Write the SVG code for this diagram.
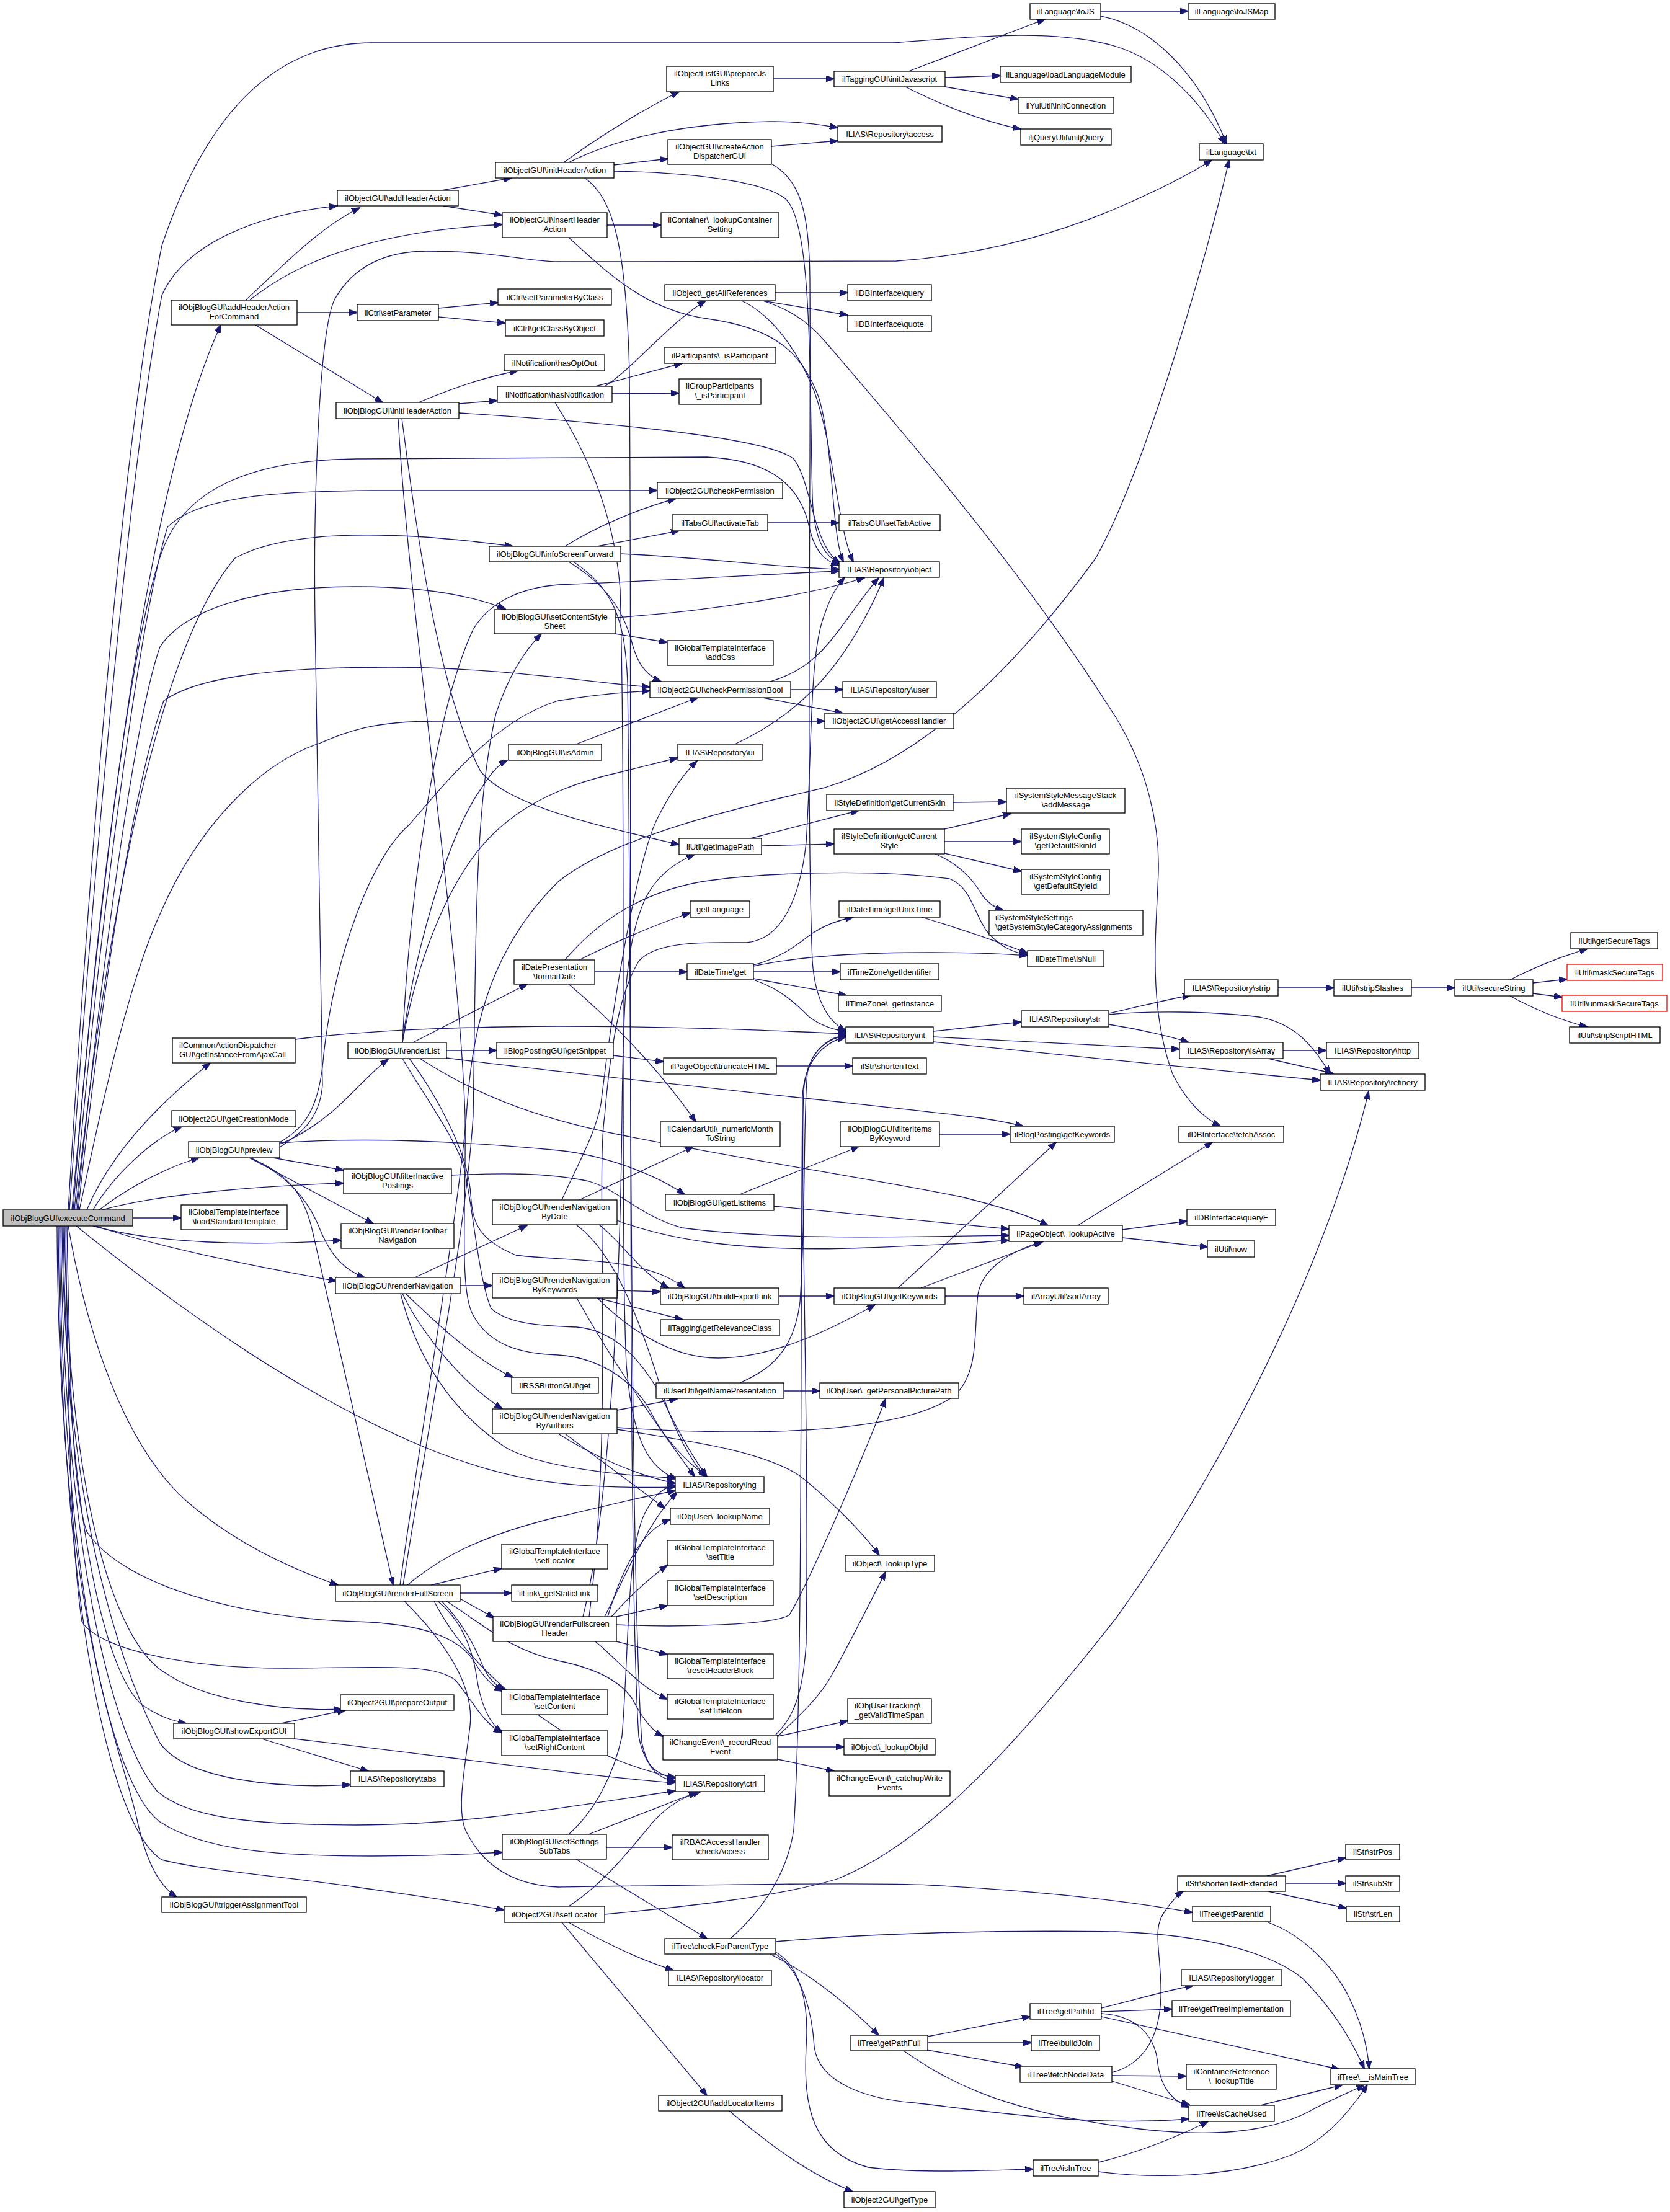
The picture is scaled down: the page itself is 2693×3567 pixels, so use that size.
<svg xmlns="http://www.w3.org/2000/svg" width="2693" height="3567" viewBox="0 0 2693 3567">
<defs>
<marker id="a" markerUnits="userSpaceOnUse" markerWidth="14" markerHeight="10" refX="13" refY="5" orient="auto"><path d="M0,0L14,5L0,10z" fill="#191970" stroke="#191970" stroke-width="1"/></marker>
<style>
.n rect{fill:#fff;stroke:#000;stroke-width:1.3}
.n text{font-family:"Liberation Sans",Arial,sans-serif;font-size:13px;fill:#000;text-anchor:middle}
.n text.l{text-anchor:start}
.n.root rect{fill:#bfbfbf}
.n.red rect{stroke:#ff0000}
.e path{fill:none;stroke:#191970;stroke-width:1.3;marker-end:url(#a)}
</style>
</defs>
<rect x="0" y="0" width="2693" height="3567" fill="#fff"/>
<g id="edges" class="e">
<path d="M110,1951 C150,1300 200,700 261,396 C320,220 420,69 600,69 L1440,69 C1560,60 1700,45 1800,75 C1880,100 1940,170 1975,232"/>
<path d="M112,1951 C155,1350 210,750 261,476 C300,390 420,345 544,332"/>
<path d="M116,1951 C165,1400 230,800 356,524"/>
<path d="M118,1951 C160,1400 220,1000 261,890 C300,780 420,742 574,740 L1140,737 C1240,742 1290,780 1305,850 C1315,895 1335,906 1353,912"/>
<path d="M120,1951 C165,1450 225,1000 270,850 C320,800 450,792 600,791 L1060,791"/>
<path d="M122,1951 C170,1500 250,1050 379,900 C450,860 600,850 827,881"/>
<path d="M124,1951 C170,1500 220,1150 258,1043 C300,980 420,946 574,946 C680,946 760,960 815,982"/>
<path d="M126,1951 C170,1550 220,1250 264,1130 C320,1090 450,1076 631,1076 C800,1076 950,1100 1048,1108"/>
<path d="M128,1951 C150,1850 200,1600 258,1474 C320,1330 420,1230 517,1198 C560,1180 600,1163 700,1163 L1330,1163"/>
<path d="M140,1951 C170,1880 230,1800 339,1714"/>
<path d="M150,1951 C180,1900 240,1840 293,1817"/>
<path d="M160,1951 C200,1920 260,1885 321,1867"/>
<path d="M165,1951 C260,1925 420,1912 554,1908"/>
<path d="M214,1964 L292,1964"/>
<path d="M150,1977 C250,2005 400,2010 550,2000"/>
<path d="M155,1977 C250,2010 400,2040 543,2066"/>
<path d="M123,1977 C300,2120 500,2260 700,2340 C820,2385 900,2402 1089,2398"/>
<path d="M110,1977 C140,2150 200,2330 300,2420 C380,2490 470,2530 545,2556"/>
<path d="M108,1977 C112,2200 115,2400 140,2470 C200,2560 400,2610 574,2615 C680,2618 740,2640 765,2680 C780,2705 795,2720 810,2727"/>
<path d="M106,1977 C110,2300 115,2500 132,2615 C160,2660 300,2690 459,2690 C600,2690 700,2680 735,2710 C760,2740 780,2780 809,2794"/>
<path d="M104,1977 C110,2400 180,2650 270,2700 C330,2740 450,2760 551,2756"/>
<path d="M102,1977 C108,2450 170,2700 230,2750 C260,2770 280,2775 300,2779"/>
<path d="M100,1977 C105,2450 200,2700 258,2811 C300,2870 450,2885 565,2878"/>
<path d="M98,1977 C103,2500 180,2800 253,2888 C300,2930 400,2943 574,2943 C750,2943 900,2916 1089,2888"/>
<path d="M96,1977 C100,2550 180,2880 258,2938 C330,2985 450,2993 600,2993 C700,2993 760,2990 810,2987"/>
<path d="M94,1977 C98,2600 180,2950 261,2999 C320,3015 450,3025 574,3043 C680,3058 760,3070 813,3080"/>
<path d="M92,1977 C95,2600 190,2800 220,2930 C235,3000 255,3040 285,3059"/>
<path d="M396,484 C450,435 510,370 580,335"/>
<path d="M402,484 C460,440 560,375 810,362"/>
<path d="M479,504 L576,504"/>
<path d="M412,524 L617,649"/>
<path d="M712,307 L825,287"/>
<path d="M715,332 L810,347"/>
<path d="M707,497 L803,488"/>
<path d="M707,511 L815,521"/>
<path d="M675,649 C720,630 780,608 835,598"/>
<path d="M740,651 L802,646"/>
<path d="M740,666 C900,676 1230,700 1280,740 C1310,780 1310,880 1355,908"/>
<path d="M648,675 C665,800 700,1100 775,1244 C820,1300 960,1330 1095,1362"/>
<path d="M642,675 C660,1000 740,1500 750,1800 C752,1950 740,2080 763,2121 C790,2170 840,2183 900,2185 C980,2190 1030,2240 1049,2276 C1070,2320 1110,2360 1140,2381"/>
<path d="M909,262 C960,225 1030,180 1095,148"/>
<path d="M917,262 C990,225 1100,198 1244,196 C1290,196 1320,200 1351,206"/>
<path d="M990,266 L1077,256"/>
<path d="M990,276 C1100,278 1230,290 1267,321 C1310,360 1305,600 1310,800 C1312,870 1330,900 1356,908"/>
<path d="M943,287 C990,320 1010,400 1015,600 C1020,1200 1010,2500 1030,2800 C1040,2850 1060,2862 1090,2868"/>
<path d="M979,363 L1066,363"/>
<path d="M917,383 C980,440 1040,500 1141,514 C1240,528 1290,560 1320,640 C1345,720 1340,860 1360,906"/>
<path d="M1244,236 L1351,227"/>
<path d="M1244,264 C1290,290 1305,340 1306,450 C1308,800 1300,1300 1310,1550 C1315,1620 1340,1650 1364,1662"/>
<path d="M1247,127 L1345,127"/>
<path d="M1465,115 L1685,31"/>
<path d="M1524,125 L1613,122"/>
<path d="M1524,140 L1642,160"/>
<path d="M1460,140 C1510,165 1580,195 1646,208"/>
<path d="M1775,18 L1916,18"/>
<path d="M1775,26 C1850,40 1930,110 1978,232"/>
<path d="M975,623 C1020,595 1080,520 1138,485"/>
<path d="M960,623 L1100,586"/>
<path d="M987,635 L1095,634"/>
<path d="M895,649 C940,720 990,820 1000,950 C1010,1300 1000,2000 1010,2200 C1020,2330 1050,2370 1092,2385"/>
<path d="M1250,472 L1367,472"/>
<path d="M1230,485 L1367,508"/>
<path d="M1230,485 C1270,498 1300,515 1330,550 C1450,690 1650,920 1800,1158 C1850,1240 1870,1330 1868,1405 C1865,1500 1850,1620 1891,1732 C1915,1780 1945,1805 1968,1816"/>
<path d="M1196,485 C1240,505 1285,560 1313,631 C1345,720 1350,850 1376,906"/>
<path d="M911,881 C960,850 1030,820 1090,804"/>
<path d="M963,881 L1095,856"/>
<path d="M1001,893 C1150,900 1250,915 1353,918"/>
<path d="M917,906 C990,950 1010,1000 1020,1040 C1030,1075 1045,1090 1066,1099"/>
<path d="M925,906 C990,950 1008,1000 1012,1100 C1018,1500 1015,2500 1035,2810 C1045,2855 1062,2868 1089,2872"/>
<path d="M1238,843 L1353,843"/>
<path d="M992,996 C1150,985 1300,960 1394,932"/>
<path d="M992,1022 L1076,1036"/>
<path d="M1242,1099 C1290,1085 1320,1060 1350,1020 C1380,980 1400,950 1417,932"/>
<path d="M1275,1112 L1359,1112"/>
<path d="M1230,1125 L1359,1150"/>
<path d="M929,1200 L1125,1125"/>
<path d="M1185,1200 C1250,1170 1300,1130 1340,1080 C1380,1030 1410,970 1425,932"/>
<path d="M1210,1352 L1385,1307"/>
<path d="M1228,1364 L1345,1361"/>
<path d="M1537,1294 L1623,1293"/>
<path d="M1523,1337 L1630,1312"/>
<path d="M1523,1357 L1647,1357"/>
<path d="M1523,1376 L1647,1405"/>
<path d="M1508,1377 C1550,1395 1570,1420 1585,1445 C1595,1458 1605,1464 1618,1468"/>
<path d="M934,1548 C1000,1515 1060,1490 1113,1472"/>
<path d="M959,1567 L1108,1567"/>
<path d="M911,1548 C960,1490 1030,1440 1130,1422 C1220,1408 1400,1400 1531,1417 C1565,1430 1570,1470 1590,1500 C1610,1525 1630,1535 1657,1540"/>
<path d="M917,1587 C980,1640 1060,1720 1122,1809"/>
<path d="M1215,1556 C1260,1545 1290,1520 1310,1505 C1330,1492 1350,1484 1376,1479"/>
<path d="M1215,1558 C1300,1540 1400,1536 1500,1536 C1570,1536 1620,1538 1657,1541"/>
<path d="M1215,1567 L1355,1567"/>
<path d="M1215,1578 L1365,1605"/>
<path d="M1215,1580 C1260,1595 1285,1620 1305,1640 C1325,1655 1345,1660 1364,1664"/>
<path d="M1486,1479 C1540,1495 1600,1515 1657,1537"/>
<path d="M476,1676 C600,1660 750,1656 900,1655 C1100,1655 1250,1662 1364,1667"/>
<path d="M989,1702 L1070,1712"/>
<path d="M1252,1719 L1375,1719"/>
<path d="M1505,1663 L1647,1648"/>
<path d="M1505,1672 C1650,1680 1800,1687 1902,1692"/>
<path d="M1505,1680 C1700,1700 1950,1725 2129,1742"/>
<path d="M1788,1634 C1830,1625 1880,1612 1920,1605"/>
<path d="M1788,1652 C1840,1660 1890,1672 1917,1681"/>
<path d="M1788,1636 C1850,1630 1950,1630 2030,1640 C2090,1650 2120,1690 2145,1732"/>
<path d="M2061,1593 L2151,1593"/>
<path d="M2276,1593 L2346,1593"/>
<path d="M2435,1580 C2470,1562 2515,1543 2560,1530"/>
<path d="M2472,1585 L2527,1579"/>
<path d="M2472,1602 L2519,1608"/>
<path d="M2435,1606 C2470,1625 2515,1645 2560,1656"/>
<path d="M2069,1694 L2139,1694"/>
<path d="M2045,1707 L2150,1731"/>
<path d="M1738,1976 L1955,1842"/>
<path d="M1810,1983 L1914,1969"/>
<path d="M1810,1996 L1948,2011"/>
<path d="M649,1681 C665,1550 720,1350 775,1273 C790,1250 800,1235 818,1226"/>
<path d="M666,1681 L850,1587"/>
<path d="M720,1694 L801,1694"/>
<path d="M649,1681 C660,1450 700,1150 763,1015 C790,970 840,948 900,943 C1100,935 1250,925 1353,921"/>
<path d="M649,1681 C670,1560 720,1420 792,1348 C840,1300 900,1270 980,1250 C1030,1238 1060,1230 1093,1222"/>
<path d="M720,1706 C900,1730 1300,1770 1560,1800 C1600,1805 1625,1810 1650,1816"/>
<path d="M677,1707 C760,1760 850,1800 1000,1830 C1200,1870 1400,1900 1550,1930 C1610,1945 1660,1960 1690,1976"/>
<path d="M649,1707 C680,1760 730,1830 746,1875 C760,1920 770,2060 792,2110 C820,2135 870,2138 930,2140 C990,2145 1030,2190 1060,2240 C1090,2300 1110,2340 1140,2381"/>
<path d="M660,1707 C700,1760 750,1850 758,1915 C762,1960 760,1995 832,2024 C870,2030 960,2030 1015,2041 C1060,2050 1085,2062 1104,2077"/>
<path d="M451,1850 C480,1830 515,1810 520,1750 L508,1000 C505,800 515,530 540,482 C570,430 620,405 689,405 C800,405 850,422 900,422 L1445,421 C1600,410 1720,370 1800,336 C1860,310 1920,280 1954,258"/>
<path d="M451,1845 C490,1830 530,1800 560,1770 C590,1740 610,1720 626,1708"/>
<path d="M440,1867 L554,1887"/>
<path d="M402,1867 L602,1973"/>
<path d="M405,1867 C460,1895 495,1930 515,1980 C535,2030 560,2050 588,2060"/>
<path d="M402,1867 C460,1890 490,1920 505,1990 C540,2150 600,2400 634,2556"/>
<path d="M451,1843 C550,1836 700,1836 900,1855 C970,1862 1050,1890 1104,1926"/>
<path d="M451,1842 C490,1820 515,1790 522,1700 C540,1540 600,1380 660,1330 C720,1260 800,1160 900,1130 C960,1120 1010,1116 1048,1114"/>
<path d="M728,1895 C800,1892 880,1890 950,1905 C1000,1920 1030,1960 1100,1980 C1250,2000 1450,1995 1627,1992"/>
<path d="M669,2060 L850,1976"/>
<path d="M742,2073 L794,2073"/>
<path d="M654,2086 C690,2120 760,2190 827,2221"/>
<path d="M649,2086 C670,2130 730,2220 810,2272"/>
<path d="M646,2086 C670,2180 720,2270 815,2334 C860,2360 950,2372 1010,2378 C1050,2381 1070,2382 1089,2384"/>
<path d="M934,1935 L1118,1849"/>
<path d="M906,1935 C930,1880 960,1830 969,1780 C990,1600 1030,1380 1060,1320 C1080,1280 1100,1250 1124,1227"/>
<path d="M966,1975 C1000,2000 1030,2050 1078,2077"/>
<path d="M995,1968 C1080,2000 1200,2020 1400,2012 C1500,2008 1580,2004 1627,2000"/>
<path d="M929,1975 C990,2020 1030,2120 1072,2259 C1090,2310 1110,2350 1137,2381"/>
<path d="M995,2081 L1065,2083"/>
<path d="M963,2093 L1101,2128"/>
<path d="M963,2093 C1010,2140 1080,2190 1158,2190 C1240,2190 1330,2150 1411,2104"/>
<path d="M930,2093 C990,2200 1060,2300 1120,2381"/>
<path d="M995,2274 L1092,2256"/>
<path d="M911,2312 L1072,2432"/>
<path d="M995,2305 C1120,2325 1230,2340 1290,2380 C1340,2420 1390,2470 1418,2508"/>
<path d="M995,2302 C1200,2315 1450,2315 1540,2250 C1580,2210 1570,2150 1577,2087 C1585,2040 1640,2015 1680,2002"/>
<path d="M900,2312 C960,2350 1030,2380 1089,2392"/>
<path d="M1264,2243 L1322,2243"/>
<path d="M1193,2230 C1240,2210 1280,2180 1290,2100 C1300,1950 1295,1800 1302,1730 C1310,1690 1340,1672 1364,1669"/>
<path d="M695,2556 L809,2529"/>
<path d="M742,2569 L825,2569"/>
<path d="M742,2578 L797,2609"/>
<path d="M657,2556 C700,2520 760,2480 900,2446 C980,2428 1040,2412 1089,2404"/>
<path d="M645,2556 C680,2300 740,1950 752,1800 C760,1680 780,1540 900,1422 C1000,1340 1250,1290 1330,1270 C1500,1220 1650,1060 1767,900 C1850,750 1950,400 1982,258"/>
<path d="M650,2556 C690,2300 750,2000 763,1800 C768,1500 765,1300 800,1150 C820,1090 845,1050 873,1022"/>
<path d="M712,2582 C740,2610 765,2650 780,2690 C790,2710 800,2718 814,2724"/>
<path d="M706,2582 C740,2610 760,2650 768,2700 C775,2750 790,2780 810,2793"/>
<path d="M652,2582 C720,2650 765,2720 758,2783 C750,2850 735,2920 752,2954 C780,3010 830,3040 900,3043 C1100,3040 1400,3035 1500,3040 C1650,3048 1800,3062 1923,3084"/>
<path d="M720,2582 C780,2620 820,2660 900,2678 C960,2690 1000,2710 1020,2740 C1035,2770 1050,2790 1069,2800"/>
<path d="M700,2582 C760,2700 900,2800 1000,2840 C1040,2855 1065,2862 1089,2866"/>
<path d="M975,2607 C1000,2560 1040,2460 1092,2406"/>
<path d="M980,2607 C1000,2540 1030,2470 1081,2450"/>
<path d="M986,2607 C1010,2580 1040,2550 1076,2524"/>
<path d="M994,2607 L1076,2589"/>
<path d="M994,2647 L1076,2668"/>
<path d="M960,2647 C1000,2680 1030,2720 1076,2740"/>
<path d="M994,2620 C1100,2625 1250,2620 1273,2604 C1300,2560 1380,2380 1428,2256"/>
<path d="M940,2607 C980,2450 1000,2100 1003,1800 C1005,1600 1010,1520 1040,1450 C1060,1410 1090,1390 1120,1378"/>
<path d="M950,2607 C990,2300 960,1900 975,1800 C985,1680 1000,1600 1030,1550 C1060,1515 1150,1520 1204,1520 C1260,1515 1290,1450 1300,1359 C1310,1200 1305,1050 1330,990 C1340,960 1350,945 1362,931"/>
<path d="M1254,2800 L1367,2775"/>
<path d="M1254,2817 L1361,2817"/>
<path d="M1254,2837 L1345,2856"/>
<path d="M1254,2800 C1285,2770 1320,2740 1342,2700 C1370,2650 1400,2590 1428,2535"/>
<path d="M1250,2798 C1280,2770 1295,2730 1300,2650 C1305,2300 1290,1900 1296,1760 C1300,1700 1330,1675 1364,1670"/>
<path d="M949,2958 L1124,2890"/>
<path d="M978,2979 L1084,2979"/>
<path d="M929,2998 L1140,3126"/>
<path d="M917,2958 C960,2920 990,2860 1003,2800 C1015,2650 1010,2500 1040,2440 C1055,2410 1070,2398 1090,2395"/>
<path d="M917,3074 C970,3040 1010,2990 1044,2949 C1070,2915 1100,2898 1130,2889"/>
<path d="M975,3087 C1100,3075 1250,3060 1350,3030 C1500,2970 1650,2800 1800,2609 C2000,2330 2150,2000 2207,1760"/>
<path d="M917,3100 C970,3130 1030,3160 1086,3177"/>
<path d="M906,3100 L1140,3379"/>
<path d="M453,2779 L557,2758"/>
<path d="M422,2804 L594,2856"/>
<path d="M475,2804 C700,2830 950,2865 1089,2875"/>
<path d="M1178,3126 C1230,3080 1270,3020 1280,2950 C1295,2700 1290,2200 1294,1770 C1296,1710 1330,1680 1364,1672"/>
<path d="M1251,3131 C1400,3118 1600,3112 1800,3115 C1950,3120 2050,3150 2100,3190 C2150,3240 2180,3290 2200,3336"/>
<path d="M1242,3151 C1300,3180 1360,3225 1417,3282"/>
<path d="M1251,3148 C1290,3170 1305,3230 1300,3300 C1295,3400 1310,3470 1400,3495 C1480,3505 1580,3500 1666,3498"/>
<path d="M1251,3151 C1295,3180 1310,3250 1313,3300 C1320,3360 1400,3385 1474,3391 C1600,3405 1750,3430 1917,3417"/>
<path d="M1496,3284 L1661,3252"/>
<path d="M1496,3294 L1663,3294"/>
<path d="M1496,3306 L1650,3333"/>
<path d="M1457,3307 C1520,3350 1600,3400 1800,3428 C1950,3450 2050,3440 2120,3400 C2160,3380 2185,3370 2200,3362"/>
<path d="M1776,3238 C1830,3225 1880,3210 1924,3202"/>
<path d="M1776,3244 L1890,3240"/>
<path d="M1776,3247 C1830,3250 1860,3280 1866,3320 C1870,3360 1885,3385 1917,3398"/>
<path d="M1776,3252 L2160,3337"/>
<path d="M1793,3342 C1840,3330 1870,3290 1872,3220 C1874,3150 1855,3110 1880,3080 C1890,3065 1900,3055 1908,3050"/>
<path d="M1793,3347 L1913,3348"/>
<path d="M1793,3356 L1918,3394"/>
<path d="M1771,3487 C1840,3470 1900,3445 1948,3421"/>
<path d="M1771,3502 C1850,3512 1980,3515 2085,3474 C2140,3450 2180,3400 2205,3362"/>
<path d="M2033,3395 L2165,3362"/>
<path d="M2045,3100 C2100,3120 2150,3170 2175,3220 C2195,3260 2205,3300 2208,3336"/>
<path d="M2043,3025 L2170,2996"/>
<path d="M2073,3037 L2170,3037"/>
<path d="M2045,3050 L2171,3077"/>
<path d="M1176,3404 C1220,3440 1290,3500 1375,3534"/>
<path d="M1248,1945 L1627,1982"/>
<path d="M1193,1926 L1385,1849"/>
<path d="M1515,1829 L1629,1829"/>
<path d="M1448,2077 L1703,1842"/>
<path d="M1485,2077 L1682,2002"/>
<path d="M1524,2090 L1651,2090"/>
<path d="M1256,2090 L1345,2090"/>
</g>
<g id="n_exec" class="n root"><rect x="5" y="1951" width="209" height="26"/><text x="109.5" y="1968.5">ilObjBlogGUI\executeCommand</text></g>
<g id="n_ahafc" class="n"><rect x="276" y="484" width="203" height="40"/><text x="377.5" y="500">ilObjBlogGUI\addHeaderAction</text><text x="377.5" y="515">ForCommand</text></g>
<g id="n_ajax" class="n"><rect x="278" y="1674" width="198" height="40"/><text class="l" x="289" y="1690">ilCommonActionDispatcher</text><text class="l" x="289" y="1705">GUI\getInstanceFromAjaxCall</text></g>
<g id="n_crmode" class="n"><rect x="277" y="1791" width="200" height="26"/><text x="377" y="1808.5">ilObject2GUI\getCreationMode</text></g>
<g id="n_preview" class="n"><rect x="304" y="1841" width="147" height="26"/><text x="377.5" y="1858.5">ilObjBlogGUI\preview</text></g>
<g id="n_loadtpl" class="n"><rect x="292" y="1943" width="171" height="40"/><text x="377.5" y="1959">ilGlobalTemplateInterface</text><text x="377.5" y="1974">\loadStandardTemplate</text></g>
<g id="n_export" class="n"><rect x="280" y="2779" width="195" height="25"/><text x="377.5" y="2796">ilObjBlogGUI\showExportGUI</text></g>
<g id="n_trigger" class="n"><rect x="261" y="3059" width="233" height="25"/><text x="377.5" y="3076">ilObjBlogGUI\triggerAssignmentTool</text></g>
<g id="n_ogaha" class="n"><rect x="544" y="307" width="195" height="25"/><text x="641.5" y="324">ilObjectGUI\addHeaderAction</text></g>
<g id="n_setparam" class="n"><rect x="576" y="491" width="131" height="26"/><text x="641.5" y="508.5">ilCtrl\setParameter</text></g>
<g id="n_binit" class="n"><rect x="542" y="649" width="198" height="26"/><text x="641" y="666.5">ilObjBlogGUI\initHeaderAction</text></g>
<g id="n_rlist" class="n"><rect x="561" y="1681" width="159" height="26"/><text x="640.5" y="1698.5">ilObjBlogGUI\renderList</text></g>
<g id="n_filter" class="n"><rect x="554" y="1885" width="174" height="40"/><text x="641" y="1901">ilObjBlogGUI\filterInactive</text><text x="641" y="1916">Postings</text></g>
<g id="n_toolbar" class="n"><rect x="550" y="1973" width="182" height="40"/><text x="641" y="1989">ilObjBlogGUI\renderToolbar</text><text x="641" y="2004">Navigation</text></g>
<g id="n_rnav" class="n"><rect x="541" y="2060" width="201" height="26"/><text x="641.5" y="2077.5">ilObjBlogGUI\renderNavigation</text></g>
<g id="n_rfull" class="n"><rect x="541" y="2556" width="201" height="26"/><text x="641.5" y="2573.5">ilObjBlogGUI\renderFullScreen</text></g>
<g id="n_prepout" class="n"><rect x="549" y="2733" width="183" height="25"/><text x="640.5" y="2750">ilObject2GUI\prepareOutput</text></g>
<g id="n_tabs" class="n"><rect x="565" y="2856" width="151" height="25"/><text x="640.5" y="2873">ILIAS\Repository\tabs</text></g>
<g id="n_oginit" class="n"><rect x="799" y="262" width="191" height="25"/><text x="894.5" y="279">ilObjectGUI\initHeaderAction</text></g>
<g id="n_insert" class="n"><rect x="810" y="343" width="169" height="40"/><text x="894.5" y="359">ilObjectGUI\insertHeader</text><text x="894.5" y="374">Action</text></g>
<g id="n_spbc" class="n"><rect x="803" y="466" width="183" height="26"/><text x="894.5" y="483.5">ilCtrl\setParameterByClass</text></g>
<g id="n_gcbo" class="n"><rect x="815" y="516" width="159" height="26"/><text x="894.5" y="533.5">ilCtrl\getClassByObject</text></g>
<g id="n_optout" class="n"><rect x="813" y="572" width="162" height="26"/><text x="894" y="589.5">ilNotification\hasOptOut</text></g>
<g id="n_hasnot" class="n"><rect x="802" y="623" width="185" height="26"/><text x="894.5" y="640.5">ilNotification\hasNotification</text></g>
<g id="n_info" class="n"><rect x="789" y="881" width="212" height="25"/><text x="895" y="898">ilObjBlogGUI\infoScreenForward</text></g>
<g id="n_css" class="n"><rect x="797" y="983" width="195" height="39"/><text x="894.5" y="999">ilObjBlogGUI\setContentStyle</text><text x="894.5" y="1014">Sheet</text></g>
<g id="n_admin" class="n"><rect x="820" y="1200" width="150" height="26"/><text x="895" y="1217.5">ilObjBlogGUI\isAdmin</text></g>
<g id="n_fmt" class="n"><rect x="829" y="1548" width="130" height="39"/><text x="894" y="1564">ilDatePresentation</text><text x="894" y="1579">\formatDate</text></g>
<g id="n_snip" class="n"><rect x="801" y="1681" width="188" height="26"/><text x="895" y="1698.5">ilBlogPostingGUI\getSnippet</text></g>
<g id="n_bydate" class="n"><rect x="794" y="1935" width="201" height="40"/><text x="894.5" y="1951">ilObjBlogGUI\renderNavigation</text><text x="894.5" y="1966">ByDate</text></g>
<g id="n_bykw" class="n"><rect x="794" y="2053" width="201" height="40"/><text x="894.5" y="2069">ilObjBlogGUI\renderNavigation</text><text x="894.5" y="2084">ByKeywords</text></g>
<g id="n_rss" class="n"><rect x="825" y="2221" width="140" height="26"/><text x="895" y="2238.5">ilRSSButtonGUI\get</text></g>
<g id="n_byauth" class="n"><rect x="794" y="2272" width="201" height="40"/><text x="894.5" y="2288">ilObjBlogGUI\renderNavigation</text><text x="894.5" y="2303">ByAuthors</text></g>
<g id="n_setloc" class="n"><rect x="809" y="2490" width="171" height="40"/><text x="894.5" y="2506">ilGlobalTemplateInterface</text><text x="894.5" y="2521">\setLocator</text></g>
<g id="n_static" class="n"><rect x="825" y="2556" width="139" height="26"/><text x="894.5" y="2573.5">ilLink\_getStaticLink</text></g>
<g id="n_fshead" class="n"><rect x="795" y="2607" width="199" height="40"/><text x="894.5" y="2623">ilObjBlogGUI\renderFullscreen</text><text x="894.5" y="2638">Header</text></g>
<g id="n_setcont" class="n"><rect x="809" y="2725" width="171" height="40"/><text x="894.5" y="2741">ilGlobalTemplateInterface</text><text x="894.5" y="2756">\setContent</text></g>
<g id="n_setright" class="n"><rect x="809" y="2791" width="171" height="40"/><text x="894.5" y="2807">ilGlobalTemplateInterface</text><text x="894.5" y="2822">\setRightContent</text></g>
<g id="n_subtabs" class="n"><rect x="810" y="2958" width="168" height="40"/><text x="894" y="2974">ilObjBlogGUI\setSettings</text><text x="894" y="2989">SubTabs</text></g>
<g id="n_o2loc" class="n"><rect x="813" y="3074" width="162" height="26"/><text x="894" y="3091.5">ilObject2GUI\setLocator</text></g>
<g id="n_jslinks" class="n"><rect x="1075" y="107" width="172" height="41"/><text x="1161" y="123">ilObjectListGUI\prepareJs</text><text x="1161" y="138">Links</text></g>
<g id="n_cadg" class="n"><rect x="1077" y="225" width="167" height="40"/><text x="1160.5" y="241">ilObjectGUI\createAction</text><text x="1160.5" y="256">DispatcherGUI</text></g>
<g id="n_contset" class="n"><rect x="1066" y="343" width="190" height="40"/><text x="1161" y="359">ilContainer\_lookupContainer</text><text x="1161" y="374">Setting</text></g>
<g id="n_allref" class="n"><rect x="1072" y="459" width="178" height="26"/><text x="1161" y="476.5">ilObject\_getAllReferences</text></g>
<g id="n_part" class="n"><rect x="1071" y="560" width="180" height="26"/><text x="1161" y="577.5">ilParticipants\_isParticipant</text></g>
<g id="n_grppart" class="n"><rect x="1095" y="611" width="132" height="41"/><text x="1161" y="627">ilGroupParticipants</text><text x="1161" y="642">\_isParticipant</text></g>
<g id="n_chkperm" class="n"><rect x="1060" y="778" width="202" height="26"/><text x="1161" y="795.5">ilObject2GUI\checkPermission</text></g>
<g id="n_acttab" class="n"><rect x="1084" y="830" width="154" height="26"/><text x="1161" y="847.5">ilTabsGUI\activateTab</text></g>
<g id="n_addcss" class="n"><rect x="1076" y="1033" width="171" height="40"/><text x="1161.5" y="1049">ilGlobalTemplateInterface</text><text x="1161.5" y="1064">\addCss</text></g>
<g id="n_cpb" class="n"><rect x="1048" y="1099" width="227" height="26"/><text x="1161.5" y="1116.5">ilObject2GUI\checkPermissionBool</text></g>
<g id="n_ui" class="n"><rect x="1093" y="1200" width="136" height="26"/><text x="1161" y="1217.5">ILIAS\Repository\ui</text></g>
<g id="n_imgpath" class="n"><rect x="1095" y="1352" width="133" height="26"/><text x="1161.5" y="1369.5">ilUtil\getImagePath</text></g>
<g id="n_getlang" class="n"><rect x="1113" y="1453" width="96" height="26"/><text x="1161" y="1470.5">getLanguage</text></g>
<g id="n_dtget" class="n"><rect x="1108" y="1554" width="107" height="26"/><text x="1161.5" y="1571.5">ilDateTime\get</text></g>
<g id="n_trunc" class="n"><rect x="1070" y="1706" width="182" height="26"/><text x="1161" y="1723.5">ilPageObject\truncateHTML</text></g>
<g id="n_month" class="n"><rect x="1065" y="1809" width="193" height="40"/><text x="1161.5" y="1825">ilCalendarUtil\_numericMonth</text><text x="1161.5" y="1840">ToString</text></g>
<g id="n_listitems" class="n"><rect x="1073" y="1926" width="175" height="26"/><text x="1160.5" y="1943.5">ilObjBlogGUI\getListItems</text></g>
<g id="n_explink" class="n"><rect x="1065" y="2077" width="191" height="26"/><text x="1160.5" y="2094.5">ilObjBlogGUI\buildExportLink</text></g>
<g id="n_relclass" class="n"><rect x="1065" y="2128" width="192" height="26"/><text x="1161" y="2145.5">ilTagging\getRelevanceClass</text></g>
<g id="n_namepres" class="n"><rect x="1058" y="2230" width="206" height="25"/><text x="1161" y="2247">ilUserUtil\getNamePresentation</text></g>
<g id="n_lng" class="n"><rect x="1089" y="2381" width="143" height="26"/><text x="1160.5" y="2398.5">ILIAS\Repository\lng</text></g>
<g id="n_lookname" class="n"><rect x="1081" y="2432" width="160" height="26"/><text x="1161" y="2449.5">ilObjUser\_lookupName</text></g>
<g id="n_settitle" class="n"><rect x="1076" y="2484" width="171" height="40"/><text x="1161.5" y="2500">ilGlobalTemplateInterface</text><text x="1161.5" y="2515">\setTitle</text></g>
<g id="n_setdesc" class="n"><rect x="1076" y="2549" width="171" height="40"/><text x="1161.5" y="2565">ilGlobalTemplateInterface</text><text x="1161.5" y="2580">\setDescription</text></g>
<g id="n_resethb" class="n"><rect x="1076" y="2667" width="171" height="40"/><text x="1161.5" y="2683">ilGlobalTemplateInterface</text><text x="1161.5" y="2698">\resetHeaderBlock</text></g>
<g id="n_titleicon" class="n"><rect x="1076" y="2732" width="171" height="40"/><text x="1161.5" y="2748">ilGlobalTemplateInterface</text><text x="1161.5" y="2763">\setTitleIcon</text></g>
<g id="n_readev" class="n"><rect x="1069" y="2798" width="185" height="40"/><text x="1161.5" y="2814">ilChangeEvent\_recordRead</text><text x="1161.5" y="2829">Event</text></g>
<g id="n_ctrl" class="n"><rect x="1089" y="2863" width="144" height="26"/><text x="1161" y="2880.5">ILIAS\Repository\ctrl</text></g>
<g id="n_chkacc" class="n"><rect x="1084" y="2959" width="155" height="40"/><text x="1161.5" y="2975">ilRBACAccessHandler</text><text x="1161.5" y="2990">\checkAccess</text></g>
<g id="n_parenttype" class="n"><rect x="1072" y="3126" width="179" height="25"/><text x="1161.5" y="3143">ilTree\checkForParentType</text></g>
<g id="n_locator" class="n"><rect x="1078" y="3177" width="166" height="25"/><text x="1161" y="3194">ILIAS\Repository\locator</text></g>
<g id="n_addloc" class="n"><rect x="1062" y="3379" width="199" height="25"/><text x="1161.5" y="3396">ilObject2GUI\addLocatorItems</text></g>
<g id="n_initjs" class="n"><rect x="1345" y="115" width="179" height="25"/><text x="1434.5" y="132">ilTaggingGUI\initJavascript</text></g>
<g id="n_access" class="n"><rect x="1351" y="203" width="168" height="26"/><text x="1435" y="220.5">ILIAS\Repository\access</text></g>
<g id="n_query" class="n"><rect x="1367" y="459" width="135" height="26"/><text x="1434.5" y="476.5">ilDBInterface\query</text></g>
<g id="n_quote" class="n"><rect x="1367" y="509" width="135" height="26"/><text x="1434.5" y="526.5">ilDBInterface\quote</text></g>
<g id="n_settab" class="n"><rect x="1353" y="830" width="163" height="26"/><text x="1434.5" y="847.5">ilTabsGUI\setTabActive</text></g>
<g id="n_object" class="n"><rect x="1353" y="906" width="162" height="25"/><text x="1434" y="923">ILIAS\Repository\object</text></g>
<g id="n_user" class="n"><rect x="1359" y="1099" width="151" height="26"/><text x="1434.5" y="1116.5">ILIAS\Repository\user</text></g>
<g id="n_accessh" class="n"><rect x="1330" y="1150" width="208" height="25"/><text x="1434" y="1167">ilObject2GUI\getAccessHandler</text></g>
<g id="n_skin" class="n"><rect x="1333" y="1281" width="204" height="26"/><text x="1435" y="1298.5">ilStyleDefinition\getCurrentSkin</text></g>
<g id="n_style" class="n"><rect x="1345" y="1337" width="178" height="40"/><text x="1434" y="1353">ilStyleDefinition\getCurrent</text><text x="1434" y="1368">Style</text></g>
<g id="n_unixtime" class="n"><rect x="1353" y="1453" width="163" height="26"/><text x="1434.5" y="1470.5">ilDateTime\getUnixTime</text></g>
<g id="n_tzid" class="n"><rect x="1355" y="1554" width="159" height="26"/><text x="1434.5" y="1571.5">ilTimeZone\getIdentifier</text></g>
<g id="n_tzinst" class="n"><rect x="1352" y="1605" width="166" height="26"/><text x="1435" y="1622.5">ilTimeZone\_getInstance</text></g>
<g id="n_int" class="n"><rect x="1364" y="1656" width="141" height="26"/><text x="1434.5" y="1673.5">ILIAS\Repository\int</text></g>
<g id="n_shorten" class="n"><rect x="1375" y="1706" width="119" height="26"/><text x="1434.5" y="1723.5">ilStr\shortenText</text></g>
<g id="n_filterkw" class="n"><rect x="1355" y="1809" width="160" height="40"/><text x="1435" y="1825">ilObjBlogGUI\filterItems</text><text x="1435" y="1840">ByKeyword</text></g>
<g id="n_bkw" class="n"><rect x="1345" y="2077" width="179" height="26"/><text x="1434.5" y="2094.5">ilObjBlogGUI\getKeywords</text></g>
<g id="n_pic" class="n"><rect x="1322" y="2230" width="224" height="25"/><text x="1434" y="2247">ilObjUser\_getPersonalPicturePath</text></g>
<g id="n_looktype" class="n"><rect x="1363" y="2508" width="144" height="26"/><text x="1435" y="2525.5">ilObject\_lookupType</text></g>
<g id="n_validts" class="n"><rect x="1367" y="2739" width="135" height="40"/><text class="l" x="1378" y="2755">ilObjUserTracking\</text><text class="l" x="1378" y="2770">_getValidTimeSpan</text></g>
<g id="n_lookobjid" class="n"><rect x="1361" y="2804" width="147" height="26"/><text x="1434.5" y="2821.5">ilObject\_lookupObjId</text></g>
<g id="n_catchup" class="n"><rect x="1337" y="2856" width="195" height="40"/><text x="1434.5" y="2872">ilChangeEvent\_catchupWrite</text><text x="1434.5" y="2887">Events</text></g>
<g id="n_pathfull" class="n"><rect x="1372" y="3282" width="124" height="25"/><text x="1434" y="3299">ilTree\getPathFull</text></g>
<g id="n_gettype" class="n"><rect x="1361" y="3534" width="147" height="26"/><text x="1434.5" y="3551.5">ilObject2GUI\getType</text></g>
<g id="n_tojs" class="n"><rect x="1661" y="6" width="114" height="25"/><text x="1718" y="23">ilLanguage\toJS</text></g>
<g id="n_loadmod" class="n"><rect x="1613" y="107" width="211" height="26"/><text x="1718.5" y="124.5">ilLanguage\loadLanguageModule</text></g>
<g id="n_yui" class="n"><rect x="1642" y="157" width="154" height="26"/><text x="1719" y="174.5">ilYuiUtil\initConnection</text></g>
<g id="n_jq" class="n"><rect x="1646" y="208" width="146" height="26"/><text x="1719" y="225.5">iljQueryUtil\initjQuery</text></g>
<g id="n_addmsg" class="n"><rect x="1623" y="1271" width="191" height="40"/><text x="1718.5" y="1287">ilSystemStyleMessageStack</text><text x="1718.5" y="1302">\addMessage</text></g>
<g id="n_defskin" class="n"><rect x="1647" y="1337" width="142" height="40"/><text x="1718" y="1353">ilSystemStyleConfig</text><text x="1718" y="1368">\getDefaultSkinId</text></g>
<g id="n_defstyle" class="n"><rect x="1647" y="1402" width="142" height="40"/><text x="1718" y="1418">ilSystemStyleConfig</text><text x="1718" y="1433">\getDefaultStyleId</text></g>
<g id="n_catassign" class="n"><rect x="1595" y="1468" width="248" height="40"/><text class="l" x="1605" y="1484">ilSystemStyleSettings</text><text class="l" x="1605" y="1499">\getSystemStyleCategoryAssignments</text></g>
<g id="n_isnull" class="n"><rect x="1657" y="1533" width="123" height="26"/><text x="1718.5" y="1550.5">ilDateTime\isNull</text></g>
<g id="n_str" class="n"><rect x="1647" y="1630" width="141" height="26"/><text x="1717.5" y="1647.5">ILIAS\Repository\str</text></g>
<g id="n_bpkw" class="n"><rect x="1629" y="1816" width="168" height="26"/><text x="1713" y="1833.5">ilBlogPosting\getKeywords</text></g>
<g id="n_lookactive" class="n"><rect x="1627" y="1976" width="183" height="26"/><text x="1718.5" y="1993.5">ilPageObject\_lookupActive</text></g>
<g id="n_sort" class="n"><rect x="1651" y="2077" width="136" height="26"/><text x="1719" y="2094.5">ilArrayUtil\sortArray</text></g>
<g id="n_pathid" class="n"><rect x="1661" y="3231" width="115" height="25"/><text x="1718.5" y="3248">ilTree\getPathId</text></g>
<g id="n_buildjoin" class="n"><rect x="1663" y="3282" width="110" height="25"/><text x="1718" y="3299">ilTree\buildJoin</text></g>
<g id="n_fetchnode" class="n"><rect x="1645" y="3332" width="148" height="26"/><text x="1719" y="3349.5">ilTree\fetchNodeData</text></g>
<g id="n_isintree" class="n"><rect x="1666" y="3483" width="105" height="26"/><text x="1718.5" y="3500.5">ilTree\isInTree</text></g>
<g id="n_tojsmap" class="n"><rect x="1916" y="6" width="140" height="25"/><text x="1986" y="23">ilLanguage\toJSMap</text></g>
<g id="n_txt" class="n"><rect x="1934" y="232" width="103" height="26"/><text x="1985.5" y="249.5">ilLanguage\txt</text></g>
<g id="n_strip" class="n"><rect x="1910" y="1580" width="151" height="26"/><text x="1985.5" y="1597.5">ILIAS\Repository\strip</text></g>
<g id="n_isarray" class="n"><rect x="1902" y="1681" width="167" height="26"/><text x="1985.5" y="1698.5">ILIAS\Repository\isArray</text></g>
<g id="n_refinery" class="n"><rect x="2129" y="1732" width="169" height="26"/><text x="2213.5" y="1749.5">ILIAS\Repository\refinery</text></g>
<g id="n_fetchassoc" class="n"><rect x="1901" y="1816" width="169" height="26"/><text x="1985.5" y="1833.5">ilDBInterface\fetchAssoc</text></g>
<g id="n_queryf" class="n"><rect x="1914" y="1950" width="143" height="26"/><text x="1985.5" y="1967.5">ilDBInterface\queryF</text></g>
<g id="n_now" class="n"><rect x="1947" y="2001" width="76" height="26"/><text x="1985" y="2018.5">ilUtil\now</text></g>
<g id="n_shortext" class="n"><rect x="1899" y="3025" width="174" height="25"/><text x="1986" y="3042">ilStr\shortenTextExtended</text></g>
<g id="n_parentid" class="n"><rect x="1923" y="3074" width="126" height="25"/><text x="1986" y="3091">ilTree\getParentId</text></g>
<g id="n_logger" class="n"><rect x="1905" y="3176" width="162" height="26"/><text x="1986" y="3193.5">ILIAS\Repository\logger</text></g>
<g id="n_treeimpl" class="n"><rect x="1890" y="3226" width="191" height="26"/><text x="1985.5" y="3243.5">ilTree\getTreeImplementation</text></g>
<g id="n_looktitle" class="n"><rect x="1913" y="3329" width="145" height="40"/><text x="1985.5" y="3345">ilContainerReference</text><text x="1985.5" y="3360">\_lookupTitle</text></g>
<g id="n_cache" class="n"><rect x="1917" y="3395" width="138" height="26"/><text x="1986" y="3412.5">ilTree\isCacheUsed</text></g>
<g id="n_slashes" class="n"><rect x="2151" y="1580" width="125" height="26"/><text x="2213.5" y="1597.5">ilUtil\stripSlashes</text></g>
<g id="n_http" class="n"><rect x="2139" y="1681" width="149" height="26"/><text x="2213.5" y="1698.5">ILIAS\Repository\http</text></g>
<g id="n_strpos" class="n"><rect x="2170" y="2974" width="87" height="25"/><text x="2213.5" y="2991">ilStr\strPos</text></g>
<g id="n_substr" class="n"><rect x="2170" y="3025" width="87" height="25"/><text x="2213.5" y="3042">ilStr\subStr</text></g>
<g id="n_strlen" class="n"><rect x="2171" y="3074" width="86" height="25"/><text x="2214" y="3091">ilStr\strLen</text></g>
<g id="n_maintree" class="n"><rect x="2146" y="3336" width="136" height="26"/><text x="2214" y="3353.5">ilTree\__isMainTree</text></g>
<g id="n_secure" class="n"><rect x="2346" y="1580" width="126" height="26"/><text x="2409" y="1597.5">ilUtil\secureString</text></g>
<g id="n_sectags" class="n"><rect x="2533" y="1504" width="140" height="26"/><text x="2603" y="1521.5">ilUtil\getSecureTags</text></g>
<g id="n_mask" class="n red"><rect x="2527" y="1555" width="154" height="26"/><text x="2604" y="1572.5">ilUtil\maskSecureTags</text></g>
<g id="n_unmask" class="n red"><rect x="2519" y="1605" width="169" height="26"/><text x="2603.5" y="1622.5">ilUtil\unmaskSecureTags</text></g>
<g id="n_scripthtml" class="n"><rect x="2531" y="1656" width="146" height="26"/><text x="2604" y="1673.5">ilUtil\stripScriptHTML</text></g>
</svg>
